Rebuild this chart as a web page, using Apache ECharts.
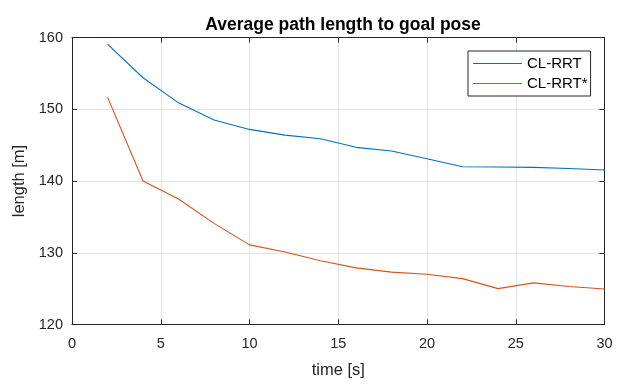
<!DOCTYPE html>
<html>
<head>
<meta charset="utf-8">
<script src="https://cdn.jsdelivr.net/npm/echarts@6/dist/echarts.min.js"></script>
<style>
html,body{margin:0;padding:0;background:#fff;}
#c{width:621px;height:391px;}
</style>
</head>
<body>
<div id="c"></div>
<script>
const times = [2, 4, 6, 8, 10, 12, 14, 16, 18, 20, 22, 24, 26, 28, 30];
const clrrt = [159.1, 154.4, 150.9, 148.5, 147.2, 146.4, 145.9, 144.7, 144.2, 143.1, 142.0, 141.95, 141.9, 141.75, 141.55];
const clrrtStar = [151.7, 140.0, 137.5, 134.1, 131.1, 130.1, 128.9, 127.9, 127.3, 127.0, 126.4, 125.0, 125.8, 125.3, 124.95];
const xTicks = [0, 5, 10, 15, 20, 25, 30];
const yTicks = [120, 130, 140, 150, 160];
const seriesNames = ['CL-RRT', 'CL-RRT*'];
const titleText = 'Average path length to goal pose';
const xLabel = 'time [s]';
const yLabel = 'length [m]';

const FONT = '"Liberation Sans", Arial, Helvetica, sans-serif';
const AX = '#262626';
const GRID = '#e3e3e3';

function pairs(ys) { return times.map((t, i) => [t, ys[i]]); }

const chart = echarts.init(document.getElementById('c'), null, {renderer: 'canvas'});
const baseX = {
  type: 'value', min: xTicks[0], max: xTicks[xTicks.length - 1], interval: 5,
  axisLine: {show: true, onZero: false, lineStyle: {color: AX, width: 1}},
  axisTick: {show: true, inside: true, length: 5, lineStyle: {color: AX}},
  splitLine: {show: false}
};
const baseY = {
  type: 'value', min: yTicks[0], max: yTicks[yTicks.length - 1], interval: 10,
  axisLine: {show: true, onZero: false, lineStyle: {color: AX, width: 1}},
  axisTick: {show: true, inside: true, length: 5, lineStyle: {color: AX}},
  splitLine: {show: false}
};
chart.setOption({
  animation: false,
  backgroundColor: '#fff',
  textStyle: {fontFamily: FONT},
  title: {
    text: titleText, left: 338, top: 11, textAlign: 'center',
    textStyle: {fontFamily: FONT, fontSize: 17.5, fontWeight: 'bold', color: '#000'}
  },
  grid: {left: 72, right: 16.5, top: 37.6, bottom: 66.5, containLabel: false},
  legend: {
    data: seriesNames, orient: 'vertical', left: 468, top: 51,
    icon: 'rect', itemWidth: 49, itemHeight: 1.2, itemGap: 5,
    padding: [5, 3, 5, 5],
    borderColor: AX, borderWidth: 1, backgroundColor: '#fff',
    textStyle: {fontFamily: FONT, fontSize: 15, color: '#000', lineHeight: 15}
  },
  xAxis: [
    Object.assign({}, baseX, {
      position: 'bottom',
      name: xLabel, nameLocation: 'middle', nameGap: 37,
      nameTextStyle: {fontFamily: FONT, fontSize: 16.5, color: AX},
      axisLabel: {show: true, margin: 12, fontFamily: FONT, fontSize: 14.5, color: AX},
      splitLine: {show: true, lineStyle: {color: GRID, width: 1}}
    }),
    Object.assign({}, baseX, {position: 'top', axisLabel: {show: false}})
  ],
  yAxis: [
    Object.assign({}, baseY, {
      position: 'left',
      name: yLabel, nameLocation: 'middle', nameGap: 43, nameRotate: 90,
      nameTextStyle: {fontFamily: FONT, fontSize: 16.5, color: AX},
      axisLabel: {show: true, margin: 9, fontFamily: FONT, fontSize: 14.5, color: AX},
      splitLine: {show: true, lineStyle: {color: GRID, width: 1}}
    }),
    Object.assign({}, baseY, {position: 'right', axisLabel: {show: false}})
  ],
  series: [
    {name: seriesNames[0], type: 'line', data: pairs(clrrt), symbol: 'none', showSymbol: false,
     lineStyle: {color: '#0072BD', width: 1.1}, itemStyle: {color: '#0072BD'}, z: 3},
    {name: seriesNames[1], type: 'line', data: pairs(clrrtStar), symbol: 'none', showSymbol: false,
     lineStyle: {color: '#D95319', width: 1.1}, itemStyle: {color: '#D95319'}, z: 3}
  ]
});
</script>
</body>
</html>
